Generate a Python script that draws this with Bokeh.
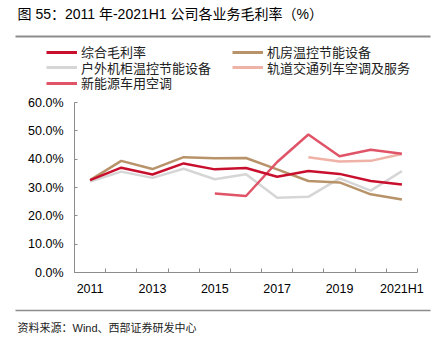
from bokeh.plotting import figure
from bokeh.layouts import column
from bokeh.models import FixedTicker, Legend, LegendItem, Label, Range1d
from bokeh.embed import file_html
from bokeh.resources import INLINE

categories = ["2011", "2012", "2013", "2014", "2015", "2016", "2017", "2018", "2019", "2020", "2021H1"]
nan = float("nan")
gross_total = [32.6, 37.0, 34.6, 38.5, 36.4, 36.9, 33.8, 35.8, 34.8, 32.3, 31.1]
machine_room = [32.6, 39.4, 36.5, 40.7, 40.3, 40.4, 36.4, 32.3, 31.8, 27.6, 25.8]
outdoor_cabinet = [32.1, 35.6, 33.4, 36.6, 32.9, 34.7, 26.4, 26.7, 33.2, 28.9, 35.8]
rail_transit = [nan, nan, nan, nan, nan, nan, nan, 40.7, 39.2, 39.4, 41.8]
new_energy = [nan, nan, nan, nan, 27.9, 27.0, 39.0, 48.7, 41.0, 43.3, 41.9]
y_ticks = [0, 10, 20, 30, 40, 50, 60]

series_names = ["综合毛利率", "机房温控节能设备", "户外机柜温控节能设备", "轨道交通列车空调及服务", "新能源车用空调"]
series_values = [gross_total, machine_room, outdoor_cabinet, rail_transit, new_energy]
series_colors = ["#C8102E", "#B8936A", "#D6D6D6", "#EFB2A6", "#E05468"]

FONT = "'Liberation Sans', 'Noto Sans CJK SC', sans-serif"
RULE = "#8C8C8C"
x = list(range(len(categories)))


def blank_fig(h):
    f = figure(width=439, height=h, output_backend="svg", toolbar_location=None,
               min_border=0, x_axis_location=None, y_axis_location=None,
               x_range=Range1d(0, 439), y_range=Range1d(h, 0), frame_align=False)
    f.outline_line_color = None
    f.xgrid.visible = False
    f.ygrid.visible = False
    return f


# ---- header: title, rule, legend ----
HEAD_H = 92
head = blank_fig(HEAD_H)
head.add_layout(Label(x=17, y=13, text="图 55：2011 年-2021H1 公司各业务毛利率（%）",
                      text_font=FONT, text_font_size="14px", text_baseline="middle",
                      text_color="#000000"))
head.line([15, 430], [36, 36], line_color=RULE, line_width=2)
# legend keys: hidden copies of the series (only their styles are shown in the legend)
keys = [head.line(x, v, line_color=c, line_width=3, visible=False)
        for v, c in zip(series_values, series_colors)]
items = [LegendItem(label=n, renderers=[r]) for n, r in zip(series_names, keys)]
# one legend per row (two columns) so the row pitch matches the reference
for row_items, y_loc in [(items[0:2], 31), (items[2:4], 15.5), (items[4:5], 0)]:
    head.add_layout(Legend(items=row_items, ncols=2, orientation="horizontal", location=(46, y_loc),
                           glyph_width=31, glyph_height=16, label_height=16, label_width=151,
                           label_standoff=4, spacing=0, padding=0, margin=0, inactive_fill_alpha=0,
                           label_text_font=FONT, label_text_font_size="13px",
                           label_text_color="#222222",
                           background_fill_alpha=0, border_line_alpha=0), "center")

# ---- main chart ----
p = figure(width=439, height=208, output_backend="svg", toolbar_location=None,
           min_border_left=74, min_border_right=22, min_border_top=10, min_border_bottom=28,
           x_range=Range1d(-0.5, len(categories) - 0.5), y_range=Range1d(0, 60), frame_align=False)
p.outline_line_color = None
p.xgrid.visible = False
p.ygrid.visible = False

for i in [2, 1, 3, 4, 0]:
    p.line(x, series_values[i], line_color=series_colors[i], line_width=2.5)

ax = p.xaxis[0]
ax.ticker = FixedTicker(ticks=x[::2], minor_ticks=[i - 0.5 for i in range(len(categories) + 1)])
ax.major_label_overrides = {i: categories[i] for i in x[::2]}
ax.major_tick_in = 0
ax.major_tick_out = 0
ax.minor_tick_in = 4
ax.minor_tick_out = 0
ax.axis_line_color = RULE
ax.minor_tick_line_color = RULE
ax.major_label_text_font = FONT
ax.major_label_text_font_size = "12.5px"
ax.major_label_text_color = "#000000"
ax.major_label_standoff = 9

ay = p.yaxis[0]
ay.ticker = FixedTicker(ticks=y_ticks)
ay.major_label_overrides = {v: f"{v:.1f}%" for v in y_ticks}
ay.major_tick_in = 3
ay.major_tick_out = 0
ay.minor_tick_line_color = None
ay.axis_line_color = RULE
ay.major_tick_line_color = RULE
ay.major_label_text_font = FONT
ay.major_label_text_font_size = "12.5px"
ay.major_label_text_color = "#000000"
ay.major_label_standoff = 11

# ---- footer: rule and source ----
FOOT_H = 341 - HEAD_H - 208
foot = blank_fig(FOOT_H)
foot.line([15, 430], [10, 10], line_color=RULE, line_width=1.5)
foot.add_layout(Label(x=17, y=27, text="资料来源：Wind、西部证券研发中心",
                      text_font=FONT, text_font_size="11px", text_baseline="middle",
                      text_color="#222222"))

layout = column(head, p, foot, spacing=0)
open("out.html", "w").write(file_html(layout, INLINE))
